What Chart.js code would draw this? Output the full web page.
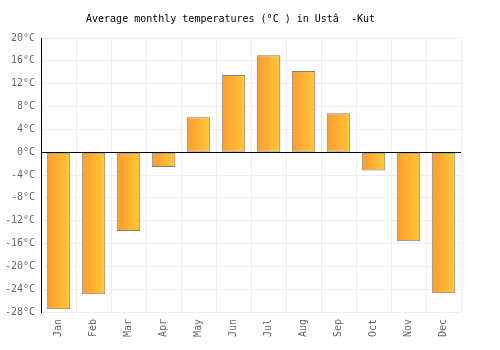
<!DOCTYPE html>
<html>
<head>
<meta charset="utf-8">
<script src="https://cdn.jsdelivr.net/npm/chart.js@4"></script>
<style>
  html, body { margin: 0; padding: 0; background: #fff; }
  #wrap { width: 500px; height: 350px; }
</style>
</head>
<body>
<div id="wrap"><canvas id="tempChart" width="500" height="350"></canvas></div>
<script>
// Chart data
const months = ['Jan', 'Feb', 'Mar', 'Apr', 'May', 'Jun', 'Jul', 'Aug', 'Sep', 'Oct', 'Nov', 'Dec'];
const avgTemps = [-27.5, -24.9, -13.8, -2.6, 6.1, 13.5, 17.0, 14.2, 6.8, -3.2, -15.6, -24.7];
const yMin = -28;
const yMax = 20;
const yStep = 4;

const barRatio = 0.67;
const FONT = '"DejaVu Sans Mono", monospace';

// horizontal orange -> yellow gradient for each bar
function barGradient(ctx) {
    const chart = ctx.chart;
    const xScale = chart.scales.x;
    if (!chart.chartArea || !xScale) return '#ffb133';
    const cx = xScale.getPixelForValue(ctx.dataIndex);
    const w = (xScale.width / months.length) * barRatio;
    const g = chart.ctx.createLinearGradient(cx - w / 2, 0, cx + w / 2, 0);
    g.addColorStop(0, '#ff9a33');
    g.addColorStop(1, '#ffc833');
    return g;
}

function initializeTempChart() {
    const ctx = document.getElementById('tempChart').getContext('2d');
    new Chart(ctx, {
        type: 'bar',
        data: {
            labels: months,
            datasets: [{
                data: avgTemps,
                backgroundColor: barGradient,
                borderColor: '#808080',
                borderWidth: 1,
                borderSkipped: false,
                categoryPercentage: 1,
                barPercentage: barRatio
            }]
        },
        options: {
            responsive: false,
            animation: false,
            layout: { padding: { left: 0, right: 39, top: 0, bottom: 0 } },
            plugins: {
                legend: { display: false },
                tooltip: { enabled: false },
                title: {
                    display: true,
                    text: 'Average monthly temperatures (°C ) in Ustâ  -Kut',
                    color: '#000',
                    font: { family: FONT, size: 10, weight: 'normal' },
                    padding: { top: 13, bottom: 13 }
                }
            },
            scales: {
                x: {
                    grid: { color: '#eeeeee', drawTicks: false, offset: true },
                    border: { color: '#eeeeee' },
                    ticks: {
                        color: '#666',
                        font: { family: FONT, size: 10 },
                        minRotation: 90,
                        maxRotation: 90,
                        padding: 7
                    },
                    afterFit: function(scale) { scale.height = 38; }
                },
                y: {
                    min: yMin,
                    max: yMax,
                    grid: {
                        drawTicks: false,
                        color: c => (c.tick && c.tick.value === 0) ? '#000' : '#eeeeee'
                    },
                    border: { color: '#000' },
                    ticks: {
                        stepSize: yStep,
                        color: '#666',
                        padding: 6,
                        font: { family: FONT, size: 10 },
                        callback: v => v + '°C'
                    },
                    afterFit: function(scale) { scale.width = 41; }
                }
            }
        }
    });
}

document.addEventListener('DOMContentLoaded', initializeTempChart);
</script>
</body>
</html>
